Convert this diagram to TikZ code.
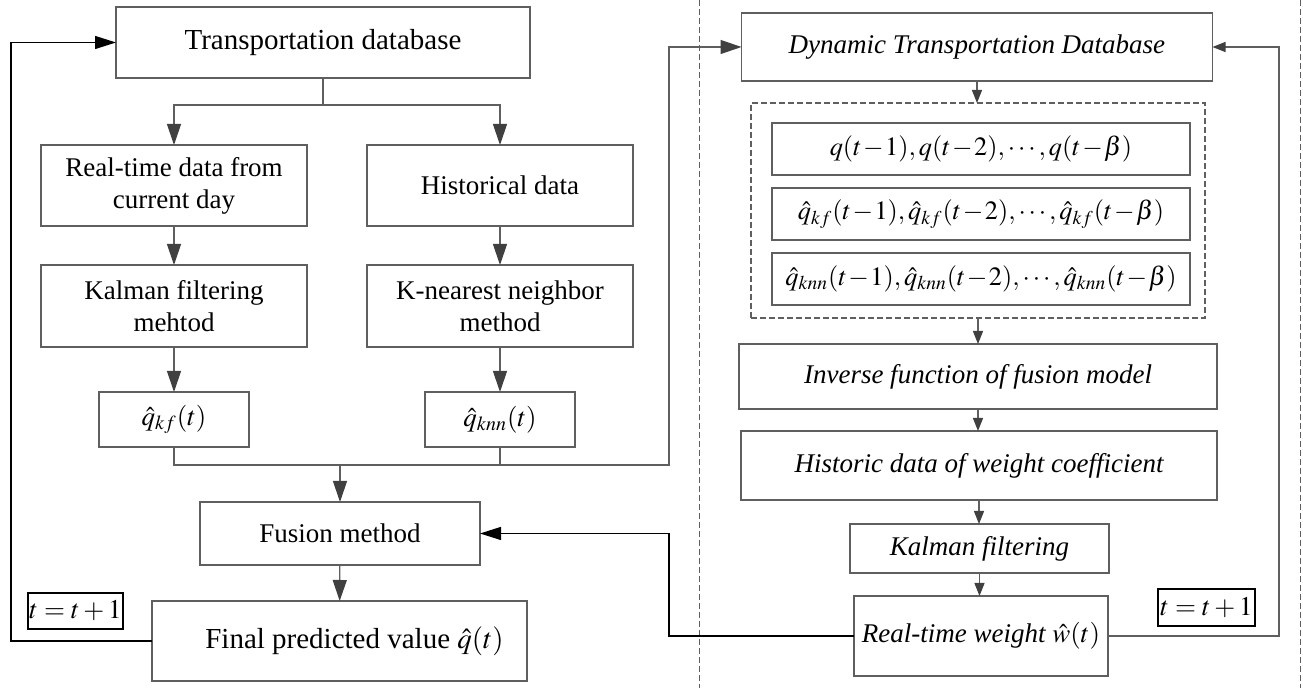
\documentclass[tikz,border=0pt]{standalone}
\usepackage{mathptmx}
\usepackage{fontspec}
\setmainfont{Liberation Serif}
\usetikzlibrary{arrows.meta}

\definecolor{linegray}{RGB}{95,95,95}
\definecolor{tipgray}{RGB}{64,64,64}

\newcommand{\tightmath}{\medmuskip=1mu\relax}

\tikzset{
  box/.style = {draw=linegray, line width=0.6pt, inner sep=0pt, outer sep=0pt, align=center},
  boxsize/.style 2 args = {minimum width=#1*0.5pt, minimum height=#2*0.5pt},
  tbox/.style = {draw=black, line width=0.9pt, inner sep=0pt, outer sep=0pt},
  mathrow/.style = {font=\fontsize{13.2}{16}\selectfont},
  itrow/.style = {font=\fontsize{13.5}{16}\selectfont\itshape},
  bigarrow/.style = {draw=linegray, line width=0.6pt, -{Triangle[length=10.5pt,width=7pt,color=tipgray]}},
  smallarrow/.style = {draw=linegray, line width=0.6pt, -{Triangle[length=6.5pt,width=5pt,color=tipgray]}},
  blackarrow/.style = {draw=black, line width=0.6pt, -{Triangle[length=10.5pt,width=6.5pt]}},
  sepline/.style = {draw=linegray, line width=0.5pt, dash pattern=on 3pt off 1.5pt}
}

\begin{document}
\begin{tikzpicture}[x=0.5pt, y=-0.5pt, font=\fontsize{13.5}{16}\selectfont]
\useasboundingbox (0,0) rectangle (1303,688);

% separators
\draw[sepline] (699,0) -- (699,688);
\draw[sepline] (1300,0) -- (1300,688);

% left part
\node[box, boxsize={414}{71}, font=\fontsize{14.5}{17}\selectfont] (td) at (323,42.5) {Transportation database};
\node[box, boxsize={266}{81}] (rt) at (174,185.5) {Real-time data from\\current day};
\node[box, boxsize={266}{81}] (hist) at (500,185.5) {Historical data};
\node[box, boxsize={266}{82}] (kal) at (174,306) {Kalman filtering\\mehtod};
\node[box, boxsize={266}{82}] (knn) at (500,306) {K-nearest neighbor\\method};
\node[box, boxsize={150}{55}] (qkf) at (174,419.5) {$\hat{q}_{kf}(t)$};
\node[box, boxsize={150}{55}] (qknn) at (500,419.5) {$\hat{q}_{knn}(t)$};
\node[box, boxsize={280}{63}] (fus) at (340,533.5) {Fusion method};
\node[box, boxsize={375}{80}, font=\fontsize{14.5}{17}\selectfont] (final) at (339.5,641) {\hspace*{15pt}Final predicted value $\hat{q}(t)$};
\node[tbox, boxsize={95}{36}] (tl) at (75.5,611) {$t=t+1$};

% right part
\node[box, itrow, boxsize={471}{68}] (dtd) at (977,47) {Dynamic Transportation Database};
\node[box, draw=linegray, dash pattern=on 3pt off 1.5pt, boxsize={454}{215}] (grp) at (978,210.5) {};
\node[box, mathrow, boxsize={418}{52}] (hq) at (981,149) {$\tightmath q(t-1),q(t-2),\cdots,q(t-\beta)$};
\node[box, mathrow, boxsize={418}{52}] (hkf) at (981,214) {$\tightmath \hat{q}_{kf}(t-1),\hat{q}_{kf}(t-2),\cdots,\hat{q}_{kf}(t-\beta)$};
\node[box, mathrow, boxsize={418}{52}] (hknn) at (981,279) {$\tightmath \hat{q}_{knn}(t-1),\hat{q}_{knn}(t-2),\cdots,\hat{q}_{knn}(t-\beta)$};
\node[box, itrow, boxsize={478}{65}] (inv) at (978,376.5) {Inverse function of fusion model};
\node[box, itrow, boxsize={476}{69}] (hw) at (979,465.5) {Historic data of weight coefficient};
\node[box, itrow, boxsize={259}{49}] (kfw) at (979.5,548.5) {Kalman filtering};
\node[box, itrow, boxsize={254}{80}] (rw) at (981,636) {Real-time weight $\hat{w}(t)$};
\node[tbox, boxsize={97}{37}] (tr) at (1206.5,607.5) {$t=t+1$};

\coordinate (split) at (323,105);
\coordinate (merge) at (340,465);
\coordinate (up) at (669,465);
\coordinate (loopl) at (11,641);
\coordinate (fbl) at (669,636);
\coordinate (fbr) at (1279,636);

% left connectors
\draw[draw=linegray, line width=0.6pt] (td.south) -- (split);
\draw[bigarrow] (split) -| (rt.north);
\draw[bigarrow] (split) -| (hist.north);
\draw[bigarrow] (rt) -- (kal);
\draw[bigarrow] (hist) -- (knn);
\draw[bigarrow] (kal) -- (qkf);
\draw[bigarrow] (knn) -- (qknn);
\draw[draw=linegray, line width=0.6pt] (qknn.south) -- (qknn.south |- merge);
\draw[bigarrow] (qkf.south) |- (up) |- (dtd.west);
\draw[bigarrow] (merge) -- (fus.north);
\draw[bigarrow] (fus) -- (final);
\draw[blackarrow] (final.west) -- (loopl) |- (td.west);

% right connectors
\draw[smallarrow] (dtd.south) -- (dtd.south |- grp.north);
\draw[smallarrow] (grp.south) -- (grp.south |- inv.north);
\draw[smallarrow] (inv.south) -- (inv.south |- hw.north);
\draw[smallarrow] (hw.south) -- (hw.south |- kfw.north);
\draw[smallarrow] (kfw.south) -- (kfw.south |- rw.north);
\draw[blackarrow] (rw.west) -- (fbl) |- (fus.east);
\draw[smallarrow] (rw.east) -- (fbr) |- (dtd.east);

\end{tikzpicture}
\end{document}
